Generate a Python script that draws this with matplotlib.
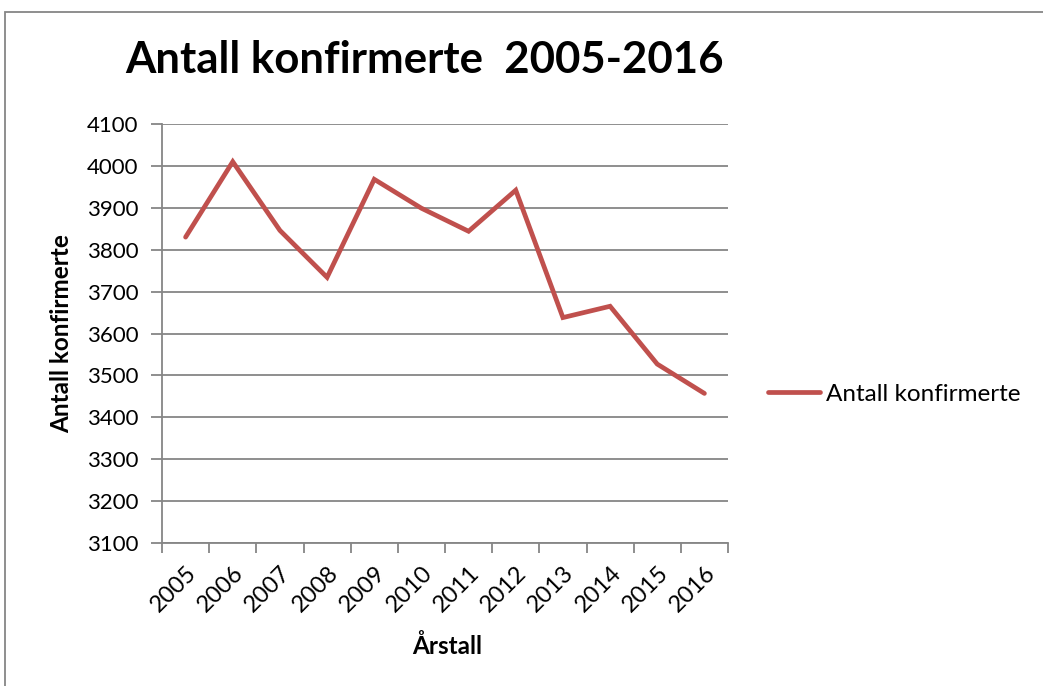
import matplotlib
matplotlib.use("Agg")
import matplotlib.pyplot as plt
from matplotlib.patches import Rectangle

years = ["2005", "2006", "2007", "2008", "2009", "2010", "2011", "2012", "2013", "2014", "2015", "2016"]
values = [3830, 4010, 3846, 3734, 3968, 3899, 3844, 3942, 3638, 3665, 3527, 3457]
yticks = [3100, 3200, 3300, 3400, 3500, 3600, 3700, 3800, 3900, 4000, 4100]

plt.rcParams['font.family'] = ['Lato', 'DejaVu Sans']
W, H = 1043, 686
fig = plt.figure(figsize=(W/100, H/100), dpi=100)
ax = fig.add_axes([162/W, 1-543/H, (728-162)/W, (543-124)/H])

grid_c = '#868686'
x = list(range(len(years)))
ax.plot(x, values, color='#C0504D', lw=3.4, solid_capstyle='round', solid_joinstyle='miter',
        label='Antall konfirmerte', zorder=3)

ax.set_ylim(3100, 4100)
ax.set_xlim(-0.5, len(years)-0.5)
ax.set_yticks(yticks)
ax.set_yticklabels([str(v) for v in yticks], fontsize=16)
ax.yaxis.grid(True, color=grid_c, lw=1.3)
ax.tick_params(axis='y', direction='out', length=8, width=1.3, color=grid_c, pad=9)

ax.set_xticks(x)
ax.set_xticklabels(years, rotation=45, ha='right', va='top', rotation_mode='anchor', fontsize=17)
ax.set_xticks([i-0.5 for i in range(len(years)+1)], minor=True)
ax.tick_params(axis='x', which='major', length=0, pad=14)
ax.tick_params(axis='x', which='minor', direction='out', length=7, width=1.3, color=grid_c)

for s in ['top', 'right']:
    ax.spines[s].set_visible(False)
for s in ['left', 'bottom']:
    ax.spines[s].set_color(grid_c)
    ax.spines[s].set_linewidth(1.3)
ax.set_axisbelow(True)

ax.set_ylabel('Antall konfirmerte', fontsize=17.5, fontweight='bold')
ax.yaxis.set_label_coords(-(162-62)/566, 0.5)
ax.set_xlabel('Årstall', fontsize=17.5, fontweight='bold')
ax.xaxis.set_label_coords((447-162)/566, -(646-543)/419)
ax.xaxis.label.set_va('center')
ax.yaxis.label.set_va('center')

fig.text(425/W, 1-60/H, 'Antall konfirmerte  2005-2016', fontsize=31.5, fontweight='bold',
         ha='center', va='center')

leg = ax.legend(loc='center left', bbox_to_anchor=(768/W, 1-394/H), bbox_transform=fig.transFigure,
                frameon=False, fontsize=17.5, handlelength=2.15, handletextpad=0.25,
                borderpad=0, borderaxespad=0)

fig.patches.append(Rectangle((5/W, -0.01), 1.0, 1-12/H+0.01, transform=fig.transFigure,
                             fill=False, edgecolor='#868686', lw=1.3))

fig.savefig('out.png', dpi=100)
